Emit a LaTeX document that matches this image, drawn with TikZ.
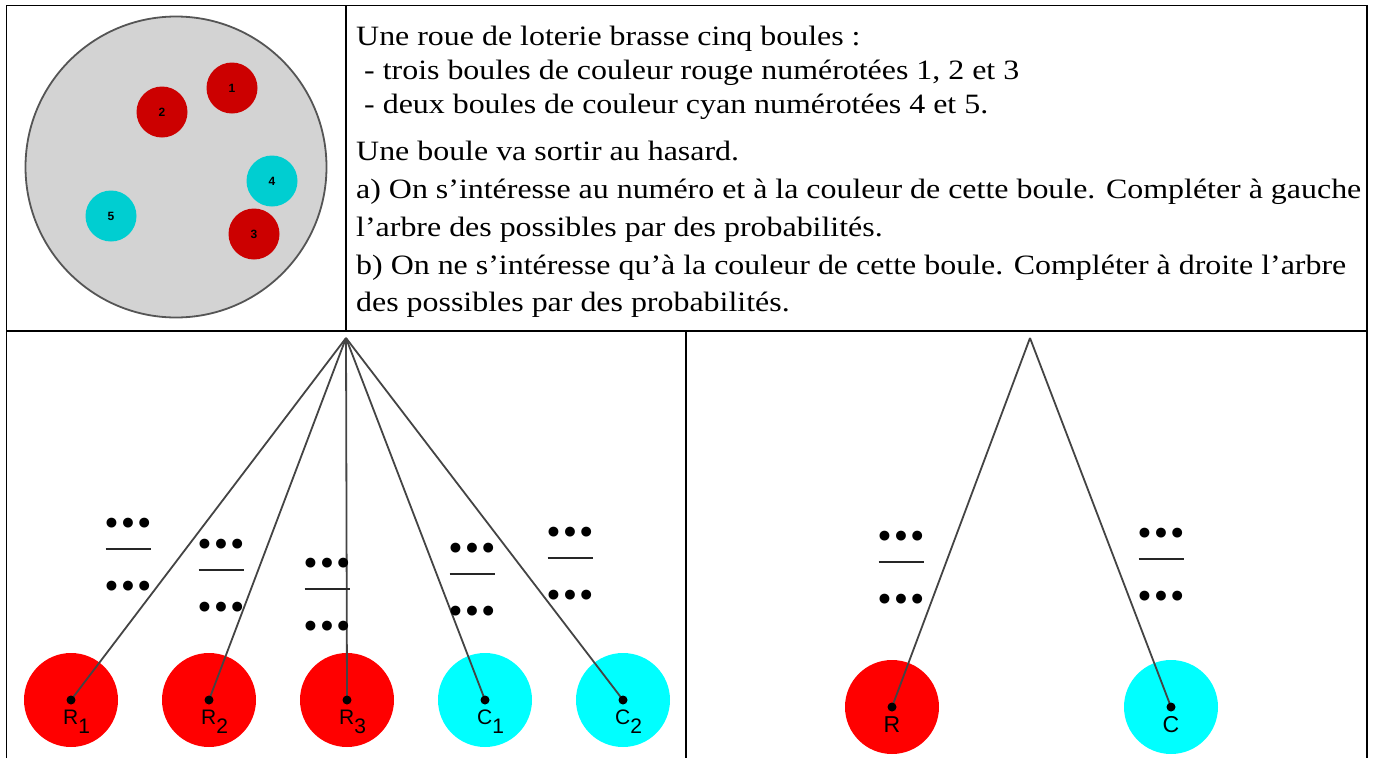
\documentclass[tikz,border=0pt]{standalone}
\usepackage{fontspec}
\setmainfont{Liberation Serif}[FakeStretch=1.14]
\newfontfamily\sansf{Liberation Sans}
\newfontfamily\dejavu{DejaVu Sans}
\definecolor{wheelgray}{HTML}{D3D3D3}
\definecolor{rimgray}{HTML}{555555}
\definecolor{ballred}{HTML}{CC0000}
\definecolor{ballcyan}{HTML}{00CED1}
\definecolor{leafred}{HTML}{FF0000}
\definecolor{leafcyan}{HTML}{00FFFF}
\definecolor{edgegray}{HTML}{444444}
\newcommand\lowsub[1]{\raisebox{-9pt}{#1}}
\newcommand\threedots{•\hspace{-1.5pt}•\hspace{-1.5pt}•}
\tikzset{
  grid/.style={line width=1.4pt, black},
  ball/.style={circle, inner sep=0pt, minimum size=51pt, font=\sansf\bfseries\fontsize{12}{12}\selectfont},
  redball/.style={ball, fill=ballred},
  cyanball/.style={ball, fill=ballcyan},
  leaf/.style={circle, inner sep=0pt, minimum size=94pt},
  redleaf/.style={leaf, fill=leafred},
  cyanleaf/.style={leaf, fill=leafcyan},
  branch/.style={edgegray, line width=1.8pt},
  leaflabel/.style={anchor=base west, inner sep=0pt, font=\sansf\fontsize{21}{21}\selectfont},
  bigleaflabel/.style={anchor=base, inner sep=0pt, font=\sansf\fontsize{23}{23}\selectfont},
  statement/.style={anchor=base west, inner sep=0pt, font=\fontsize{28}{32}\selectfont},
  dotrow/.style={inner sep=0pt, font=\dejavu\bfseries\fontsize{28}{28}\selectfont},
  blank/.pic={
    \node[dotrow] (-top) at (0,-23) {\threedots};
    \draw[black!85, line width=2.2pt] (-22.5,0) -- (22.5,0);
    \node[dotrow] (-bot) at (0,40) {\threedots};
  }
}
\begin{document}
\begin{tikzpicture}[x=1pt,y=-1pt]
\useasboundingbox (0,0) rectangle (1374,758);

% table rules
\draw[grid] (6.5,758) -- (6.5,5.5) -- (1367,5.5) -- (1367,758);
\draw[grid] (6.5,331) -- (1367,331);
\draw[grid] (346,5.5) -- (346,331);
\draw[grid] (686,331) -- (686,758);

% lottery wheel
\node[circle, draw=rimgray, fill=wheelgray, line width=1.8pt, inner sep=0pt, minimum size=301pt] (wheel) at (176,167) {};
\node[redball]  (b1) at (232,88)  {1};
\node[redball]  (b2) at (162,112) {2};
\node[cyanball] (b4) at (272,181) {4};
\node[cyanball] (b5) at (111,216) {5};
\node[redball]  (b3) at (254,234) {3};

% statement
\node[statement] (t1) at (356,45)  {Une roue de loterie brasse cinq boules :};
\node[statement] (t2) at (356,79)  {\ - trois boules de couleur rouge numérotées 1, 2 et 3};
\node[statement] (t3) at (356,113) {\ - deux boules de couleur cyan numérotées 4 et 5.};
\node[statement] (t4) at (356,160) {Une boule va sortir au hasard.};
\node[statement] (t5) at (356,198) {a) On s’intéresse au numéro et à la couleur de cette boule. Compléter à gauche};
\node[statement] (t6) at (356,236) {l’arbre des possibles par des probabilités.};
\node[statement] (t7) at (356,274) {b) On ne s’intéresse qu’à la couleur de cette boule. Compléter à droite l’arbre};
\node[statement] (t8) at (356,311) {des possibles par des probabilités.};

% left tree: number and colour
\coordinate (rootL) at (346,338);
\node[redleaf]  (r1) at (71,700)  {};
\node[redleaf]  (r2) at (209,700) {};
\node[redleaf]  (r3) at (347,700) {};
\node[cyanleaf] (c1) at (485,700) {};
\node[cyanleaf] (c2) at (623,700) {};
\foreach \n in {r1,r2,r3,c1,c2} {
  \draw[branch] (rootL) -- (\n.center);
  \fill (\n.center) circle (4.5);
}
\node[leaflabel] (lr1) at ([xshift=-8pt, yshift=-24pt]r1.center) {R\lowsub{1}};
\node[leaflabel] (lr2) at ([xshift=-8pt, yshift=-24pt]r2.center) {R\lowsub{2}};
\node[leaflabel] (lr3) at ([xshift=-8pt, yshift=-24pt]r3.center) {R\lowsub{3}};
\node[leaflabel] (lc1) at ([xshift=-8pt, yshift=-24pt]c1.center) {C\lowsub{1}};
\node[leaflabel] (lc2) at ([xshift=-8pt, yshift=-24pt]c2.center) {C\lowsub{2}};
\pic (pr1) at (128,549) {blank};
\pic (pr2) at (221,570) {blank};
\pic (pr3) at (327,589) {blank};
\pic (pc1) at (472,574) {blank};
\pic (pc2) at (570,558) {blank};

% right tree: colour only
\coordinate (rootR) at (1030,338);
\node[redleaf]  (rr) at (892,707)  {};
\node[cyanleaf] (rc) at (1171,707) {};
\foreach \n in {rr,rc} {
  \draw[branch] (rootR) -- (\n.center);
  \fill (\n.center) circle (4.5);
}
\node[bigleaflabel] (lrr) at ([yshift=-25pt]rr.center) {R};
\node[bigleaflabel] (lrc) at ([yshift=-25pt]rc.center) {C};
\pic (prr) at (901,562) {blank};
\pic (prc) at (1161,559) {blank};
\end{tikzpicture}
\end{document}
